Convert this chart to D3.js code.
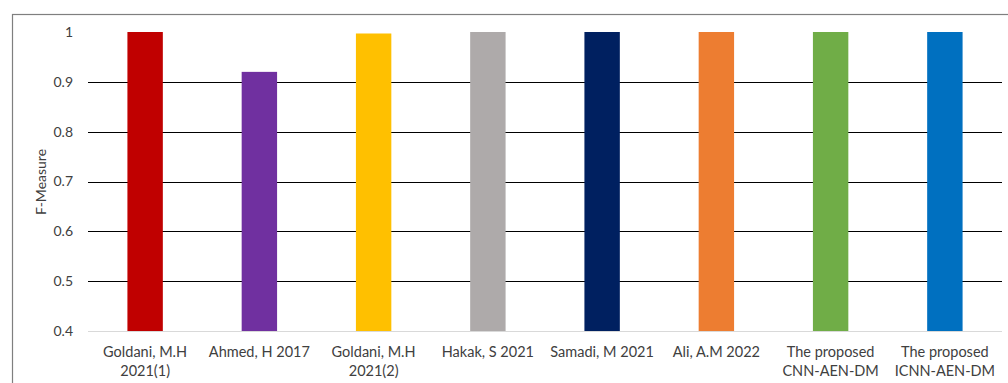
<!DOCTYPE html>
<html><head><meta charset="utf-8">
<script src="https://cdn.jsdelivr.net/npm/d3@7"></script>
<style>body{margin:0;background:#fff;} svg{display:block;}</style>
</head><body>
<svg id="c" width="1008" height="383"></svg>
<script>
const categories = [["Goldani, M.H","2021(1)"],["Ahmed, H 2017"],["Goldani, M.H","2021(2)"],["Hakak, S 2021"],["Samadi, M 2021"],["Ali, A.M 2022"],["The proposed","CNN-AEN-DM"],["The proposed","ICNN-AEN-DM"]];
const values = [1.0, 0.92, 0.997, 1.0, 1.0, 1.0, 1.0, 1.0];
const colors = ["#C00000","#7030A0","#FFC000","#AEAAAA","#002060","#ED7D31","#70AD47","#0070C0"];
const yTicks = [0.4,0.5,0.6,0.7,0.8,0.9,1];
const yLabel = "F-Measure";

const svg = d3.select("#c");
const font = "Lato, 'Open Sans', sans-serif";
// frame
svg.append("rect").attr("x",12.5).attr("y",14.5).attr("width",1100).attr("height",500)
  .attr("fill","none").attr("stroke","#7f7f7f").attr("stroke-width",1.2);

const x = d3.scaleBand().domain(d3.range(categories.length)).range([88,1002]).paddingInner(0.69).paddingOuter(0.345);
const y = d3.scaleLinear().domain([0.4,1]).range([331,32]);

const g = svg.append("g");
// gridlines
g.selectAll("line.grid").data(yTicks.filter(t=>t>0.4 && t<1)).join("line")
  .attr("x1",88).attr("x2",1002).attr("y1",d=>Math.round(y(d))+0.5).attr("y2",d=>Math.round(y(d))+0.5)
  .attr("stroke","#000").attr("stroke-width",1);
g.append("line").attr("x1",88).attr("x2",1002).attr("y1",y(0.4)+0.5).attr("y2",y(0.4)+0.5)
  .attr("stroke","#d9d9d9").attr("stroke-width",1);

// bars
g.selectAll("rect.bar").data(values).join("rect")
  .attr("x",(d,i)=>x(i)).attr("width",x.bandwidth())
  .attr("y",d=>y(d)).attr("height",d=>y(0.4)-y(d))
  .attr("fill",(d,i)=>colors[i]);

// y axis labels
const yAxis = d3.axisLeft(y).tickValues(yTicks).tickSize(0).tickPadding(0).tickFormat(d=>d3.format("")(d));
const ya = svg.append("g").attr("transform","translate(73,0)").call(yAxis);
ya.select(".domain").remove();
ya.selectAll("text").attr("font-family",font).attr("font-size",14).attr("fill","#404040");

svg.append("text").attr("transform","translate(46,182) rotate(-90)").attr("text-anchor","middle")
  .attr("font-family",font).attr("font-size",14).attr("fill","#404040").text(yLabel);

// x labels
const xl = svg.append("g");
categories.forEach((c,i)=>{
  const t = xl.append("text").attr("x",x(i)+x.bandwidth()/2).attr("y",357).attr("text-anchor","middle")
    .attr("font-family",font).attr("font-size",14.5).attr("fill","#404040");
  c.forEach((line,j)=>t.append("tspan").attr("x",x(i)+x.bandwidth()/2).attr("dy",j?19:0).text(line));
});
</script>
</body></html>
